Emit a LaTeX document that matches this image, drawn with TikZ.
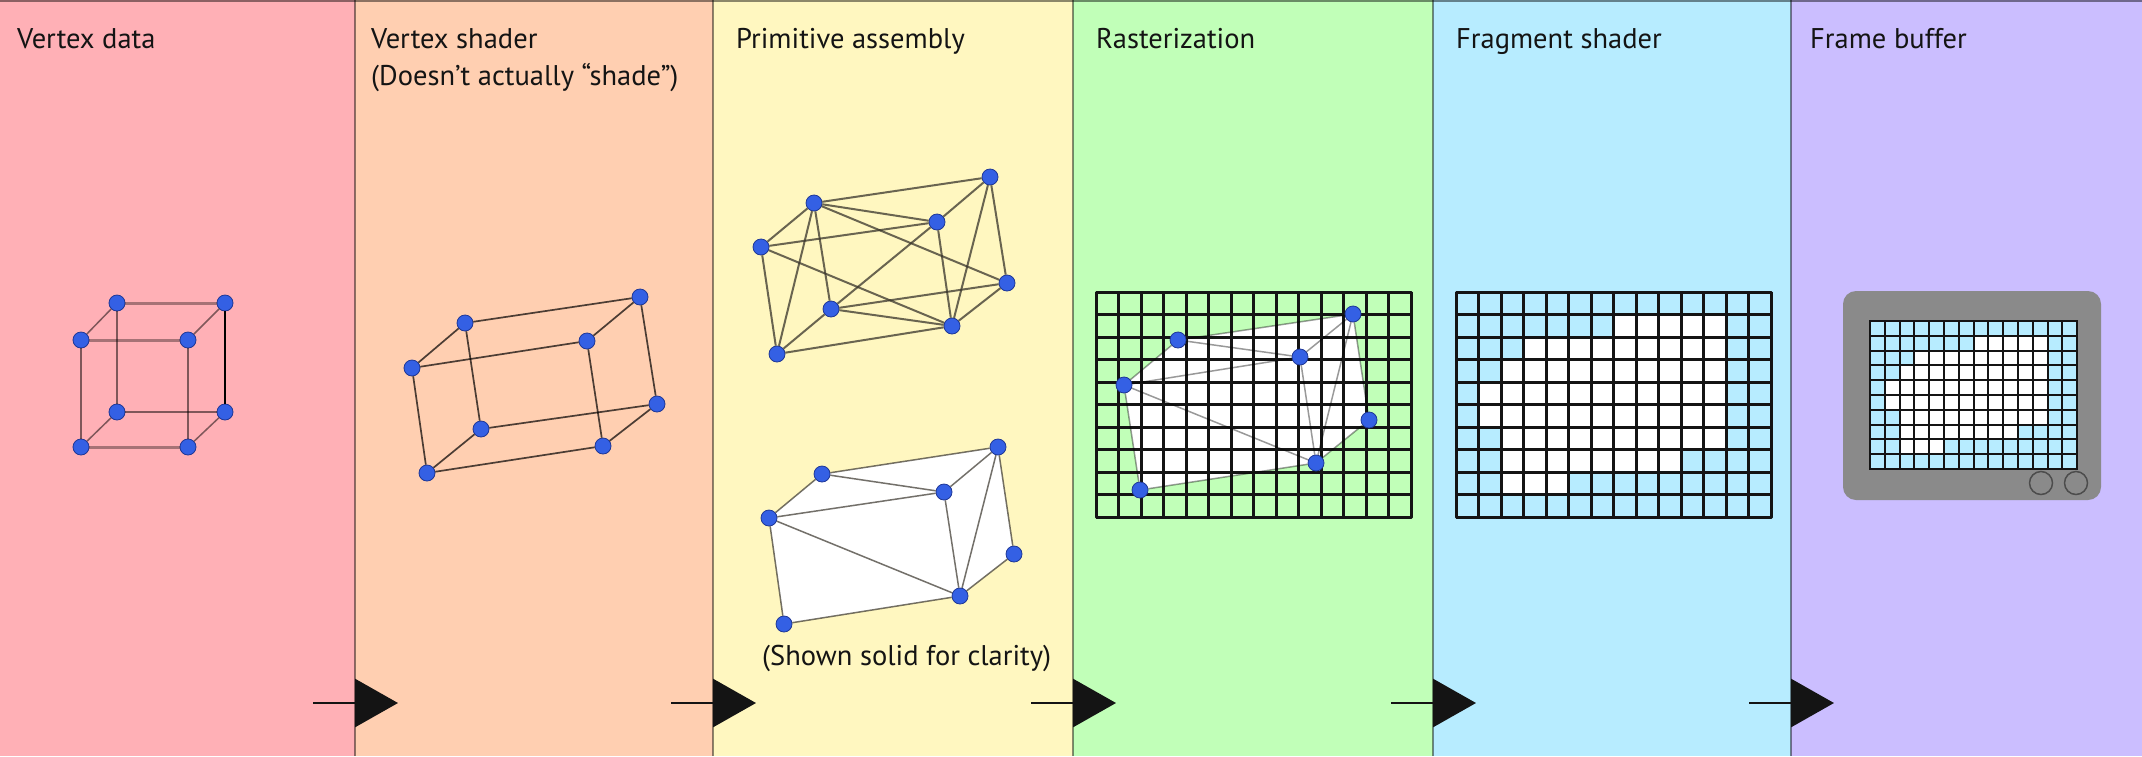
\documentclass[tikz,border=0pt]{standalone}
\usepackage{fontspec}
\setmainfont{PT Sans}
\usetikzlibrary{arrows.meta}
\pgfdeclarelayer{back}
\pgfsetlayers{back,main}
\definecolor{pA}{RGB}{255,176,182}
\definecolor{pB}{RGB}{255,207,177}
\definecolor{pC}{RGB}{255,247,192}
\definecolor{pD}{RGB}{193,255,184}
\definecolor{pE}{RGB}{183,236,255}
\definecolor{pF}{RGB}{203,190,255}
\definecolor{vblue}{RGB}{52,96,228}
\definecolor{vrim}{RGB}{30,55,150}
\definecolor{mongray}{RGB}{138,138,138}
\definecolor{txt}{RGB}{20,20,20}
\tikzset{
  vtx/.style={circle, fill=vblue, draw=vrim, line width=0.8pt, inner sep=0pt, minimum size=16pt},
  title/.style={anchor=base west, inner sep=0pt, font=\fontsize{28.5}{32}\selectfont, text=txt},
  divider/.style={draw=black, draw opacity=0.45, line width=1.5pt},
  flow/.style={line width=2.8pt, draw=txt, -{Triangle[length=43pt,width=48pt]}},
  wireA/.style={draw=black, draw opacity=0.5, line width=1.5pt},
  wireAthick/.style={draw=black, draw opacity=0.35, line width=3pt},
  wireAdark/.style={draw=black, line width=2.2pt},
  wireB/.style={draw=black, draw opacity=0.7, line width=1.7pt},
  wireC/.style={draw=black!80!olive, draw opacity=0.75, line width=2pt},
  wireD/.style={draw=black!80!olive, draw opacity=0.7, line width=1.5pt},
  wireE/.style={draw=black, draw opacity=0.4, line width=1.5pt},
  gridln/.style={draw=txt, line width=3pt},
  gridsm/.style={draw=txt, line width=2pt},
  knob/.style={circle, fill=mongray, draw=black!70, line width=1.5pt, inner sep=0pt, minimum size=23pt},
}
\begin{document}
\begin{tikzpicture}[x=1pt,y=-1pt]
\useasboundingbox (0,0) rectangle (2142,756);
\begin{pgfonlayer}{back}
  \fill[pA] (0,0) rectangle (355,756);
  \fill[pB] (355,0) rectangle (713,756);
  \fill[pC] (713,0) rectangle (1073,756);
  \fill[pD] (1073,0) rectangle (1433,756);
  \fill[pE] (1433,0) rectangle (1791,756);
  \fill[pF] (1791,0) rectangle (2142,756);
\end{pgfonlayer}
\draw[divider] (0,0.8) -- (2142,0.8);
\foreach \d in {355,713,1073,1433,1791} \draw[divider] (\d,0) -- (\d,756);

% titles
\node[title] (t1) at (17,48) {Vertex data};
\node[title] (t2) at (371,48) {Vertex shader};
\node[title] (t2b) at (371,85) {(Doesn’t actually “shade”)};
\node[title] (t3) at (736,48) {Primitive assembly};
\node[title] (t4) at (1096,48) {Rasterization};
\node[title] (t5) at (1456,48) {Fragment shader};
\node[title] (t6) at (1810,48) {Frame buffer};
\node[title] (t3b) at (762,665) {(Shown solid for clarity)};

% panel 1: cube
\node[vtx] (a1) at (117,303) {};
\node[vtx] (a2) at (225,303) {};
\node[vtx] (a3) at (81,340) {};
\node[vtx] (a4) at (188,340) {};
\node[vtx] (a5) at (117,412) {};
\node[vtx] (a6) at (225,412) {};
\node[vtx] (a7) at (81,447) {};
\node[vtx] (a8) at (188,447) {};
\draw[wireAthick] (a1) -- (a2);
\draw[wireAthick] (a3) -- (a4);
\draw[wireAthick] (a7) -- (a8);
\draw[wireA] (a1) -- (a3);
\draw[wireA] (a2) -- (a4);
\draw[wireA] (a1) -- (a5);
\draw[wireAdark] (a2) -- (a6);
\draw[wireA] (a3) -- (a7);
\draw[wireA] (a4) -- (a8);
\draw[wireA] (a5) -- (a6);
\draw[wireA] (a5) -- (a7);
\draw[wireA] (a6) -- (a8);

% panel 2: transformed box
\node[vtx] (b1) at (465,323) {};
\node[vtx] (b2) at (640,297) {};
\node[vtx] (b3) at (412,368) {};
\node[vtx] (b4) at (587,341) {};
\node[vtx] (b5) at (481,429) {};
\node[vtx] (b6) at (657,404) {};
\node[vtx] (b7) at (427,473) {};
\node[vtx] (b8) at (603,446) {};
\foreach \u/\v in {b1/b2,b3/b4,b1/b3,b2/b4,b1/b5,b2/b6,b3/b7,b4/b8,b5/b6,b7/b8,b5/b7,b6/b8}
  \draw[wireB] (\u) -- (\v);

% panel 3 top: wireframe triangles
\node[vtx] (c1) at (814,203) {};
\node[vtx] (c2) at (990,177) {};
\node[vtx] (c3) at (761,247) {};
\node[vtx] (c4) at (937,222) {};
\node[vtx] (c5) at (1007,283) {};
\node[vtx] (c6) at (831,309) {};
\node[vtx] (c7) at (952,326) {};
\node[vtx] (c8) at (777,354) {};
\foreach \u/\v in {c1/c2,c1/c4,c1/c3,c1/c5,c1/c6,c1/c8,c3/c4,c3/c7,c3/c8,c2/c4,c2/c5,c2/c7,c4/c6,c4/c7,c6/c5,c6/c7,c6/c8,c5/c7,c8/c7}
  \draw[wireC] (\u) -- (\v);

% panel 3 bottom: solid triangles
\node[vtx] (d1) at (822,474) {};
\node[vtx] (d2) at (998,447) {};
\node[vtx] (d3) at (769,518) {};
\node[vtx] (d4) at (944,492) {};
\node[vtx] (d5) at (1014,554) {};
\node[vtx] (d6) at (960,596) {};
\node[vtx] (d7) at (784,624) {};
\begin{pgfonlayer}{back}
  \fill[white] (d3.center) -- (d1.center) -- (d2.center) -- (d5.center) -- (d6.center) -- (d7.center) -- cycle;
\end{pgfonlayer}
\foreach \u/\v in {d1/d2,d1/d3,d1/d4,d3/d4,d4/d2,d3/d6,d4/d6,d2/d6,d2/d5,d5/d6,d6/d7,d7/d3}
  \draw[wireD] (\u) -- (\v);

% panel 4: rasterization
\node[vtx] (e1) at (1178,340) {};
\node[vtx] (e2) at (1353,314) {};
\node[vtx] (e3) at (1124,385) {};
\node[vtx] (e4) at (1300,357) {};
\node[vtx] (e5) at (1369,420) {};
\node[vtx] (e6) at (1316,463) {};
\node[vtx] (e7) at (1140,490) {};
\begin{pgfonlayer}{back}
  \fill[white] (e3.center) -- (e1.center) -- (e2.center) -- (e5.center) -- (e6.center) -- (e7.center) -- cycle;
  \foreach \i in {0,...,14} \draw[gridln] (1096+\i*22.5,292) -- (1096+\i*22.5,517);
  \foreach \j in {0,...,10} \draw[gridln] (1096,292+\j*22.5) -- (1411,292+\j*22.5);
  \draw[gridln, line join=round] (1096,292) rectangle (1411,517);
\end{pgfonlayer}
\foreach \u/\v in {e1/e2,e1/e3,e1/e4,e3/e4,e4/e2,e3/e6,e4/e6,e2/e6,e2/e5,e5/e6,e6/e7,e7/e3}
  \draw[wireE] (\u) -- (\v);

% panel 5: fragment shader
\foreach \r/\a/\b in {1/7/11,2/3/11,3/2/11,4/1/11,5/1/11,6/2/11,7/2/9,8/2/4}
  \fill[white] (1456+\a*22.5,292+\r*22.5) rectangle (1456+\b*22.5+22.5,292+\r*22.5+22.5);
\foreach \i in {0,...,14} \draw[gridln] (1456+\i*22.5,292) -- (1456+\i*22.5,517);
\foreach \j in {0,...,10} \draw[gridln] (1456,292+\j*22.5) -- (1771,292+\j*22.5);
\draw[gridln, line join=round] (1456,292) rectangle (1771,517);

% panel 6: monitor
\fill[mongray, rounded corners=13pt] (1843,291) rectangle (2101,500);
\fill[pE] (1870,321) rectangle (2077.2,469);
\foreach \r/\a/\b in {1/7/11,2/3/11,3/2/11,4/1/11,5/1/11,6/2/11,7/2/9,8/2/4}
  \fill[white] (1870+\a*14.8,321+\r*14.8) rectangle (1870+\b*14.8+14.8,321+\r*14.8+14.8);
\foreach \i in {0,...,14} \draw[gridsm] (1870+\i*14.8,321) -- (1870+\i*14.8,469);
\foreach \j in {0,...,10} \draw[gridsm] (1870,321+\j*14.8) -- (2077.2,321+\j*14.8);
\draw[gridsm] (1870,321) rectangle (2077.2,469);
\node[knob] (k1) at (2041,483) {};
\node[knob] (k2) at (2076,483) {};

% flow arrows between stages
\foreach \d [count=\k] in {355,713,1073,1433,1791} {
  \coordinate (s\k) at (\d-42,703);
  \coordinate (f\k) at (\d+43,703);
  \draw[flow] (s\k) -- (f\k);
}
\end{tikzpicture}
\end{document}
